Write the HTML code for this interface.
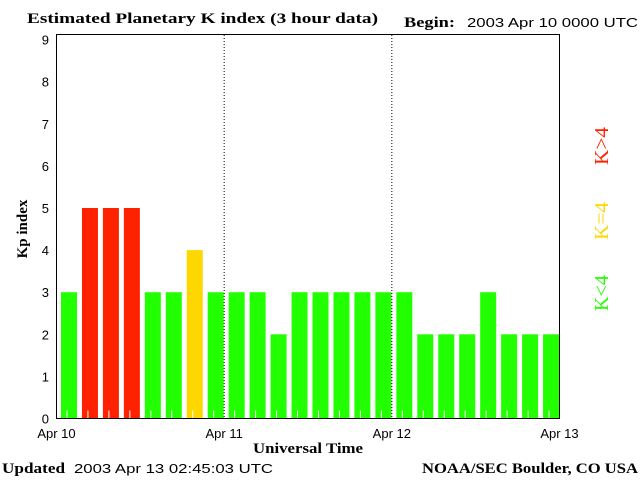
<!DOCTYPE html>
<html><head><meta charset="utf-8"><style>
body{margin:0;background:#fff;}
svg{display:block}
.s{font-family:"Liberation Sans",sans-serif;font-size:13px;fill:#000}
.b{font-family:"Liberation Serif",serif;font-weight:bold;font-size:15px;fill:#000}
</style></head><body>
<svg id="c" width="640" height="480">
<text class="b" x="27" y="23" textLength="351" lengthAdjust="spacingAndGlyphs">Estimated Planetary K index (3 hour data)</text>
<text class="b" x="404" y="27" textLength="51" lengthAdjust="spacingAndGlyphs">Begin:</text>
<text class="s" x="467" y="27" textLength="171" lengthAdjust="spacingAndGlyphs">2003 Apr 10 0000 UTC</text>
<text class="b" x="27" y="229" transform="rotate(-90 27 229)" text-anchor="middle">Kp index</text>
<text class="b" x="308" y="453" text-anchor="middle" textLength="110" lengthAdjust="spacingAndGlyphs">Universal Time</text>
<text class="b" x="2" y="473" textLength="63" lengthAdjust="spacingAndGlyphs">Updated</text>
<text class="s" x="74" y="473" textLength="199" lengthAdjust="spacingAndGlyphs">2003 Apr 13 02:45:03 UTC</text>
<text class="b" x="422" y="473" textLength="216" lengthAdjust="spacingAndGlyphs">NOAA/SEC Boulder, CO USA</text>
<g font-family="Liberation Serif,serif" font-size="20">
<text x="608" y="311" transform="rotate(-90 608 311)" fill="#22ff00" textLength="36" lengthAdjust="spacingAndGlyphs">K&lt;4</text>
<text x="608" y="240" transform="rotate(-90 608 240)" fill="#ffd700" textLength="38" lengthAdjust="spacingAndGlyphs">K=4</text>
<text x="608" y="165" transform="rotate(-90 608 165)" fill="#ff2200" textLength="38" lengthAdjust="spacingAndGlyphs">K&gt;4</text>
</g>
<g id="plot"></g>
<rect x="56.5" y="34.5" width="503" height="384" fill="none" stroke="#000"/>
</svg>
<script>
const kpValues=[3,5,5,5,3,3,4,3, 3,3,2,3,3,3,3,3, 3,2,2,2,3,2,2,2];
const yTicks=[0,1,2,3,4,5,6,7,8,9];
const xLabels=["Apr 10","Apr 11","Apr 12","Apr 13"];
const NS="http://www.w3.org/2000/svg";
const L=56.5,R=559.5,B=418.5,per=42.1;
const x=i=>L+(R-L)*i/24;
const y=v=>B-per*v;
const g=document.getElementById('plot');
function mk(t,a){const e=document.createElementNS(NS,t);for(const k in a)e.setAttribute(k,a[k]);g.appendChild(e);return e;}
kpValues.forEach((v,i)=>{
 const col=v>4?'#ff2200':(v==4?'#ffd700':'#22ff00');
 const r=mk('rect',{x:x(i)+4.5,y:y(v),width:16,height:B-y(v),fill:col});
 
 
 const t=mk('line',{x1:x(i+0.5),x2:x(i+0.5),y1:B,y2:B-8,stroke:'#fff'});
 
 
});
yTicks.forEach(v=>{
 const t=mk('text',{x:49,y:y(v)+5,'text-anchor':'end',class:'s','font-size':'14'});
 t.textContent=v;
 
 
});
xLabels.forEach((s,i)=>{
 const xx=x(i*8);
 const t=mk('text',{x:xx,y:438,'text-anchor':'middle',class:'s'});
 t.textContent=s;
 
 
 if(i>0&&i<3){
  const d=mk('line',{x1:xx,x2:xx,y1:35,y2:B,stroke:'#000','stroke-dasharray':'1,2'});
  
  
 }
});
</script>
</body></html>
